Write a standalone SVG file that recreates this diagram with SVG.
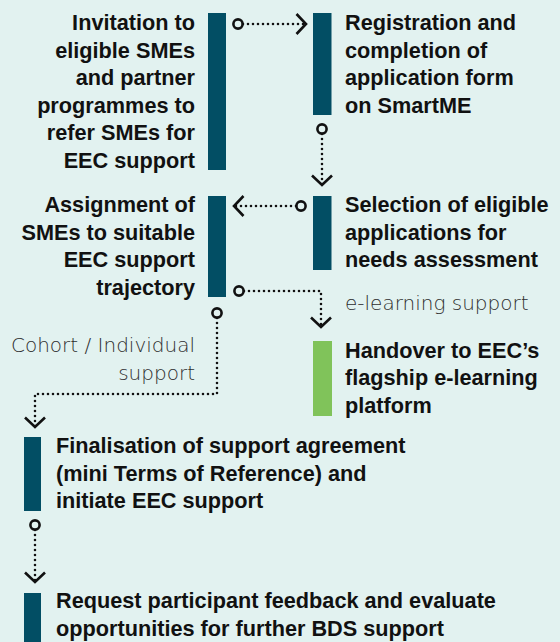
<svg xmlns="http://www.w3.org/2000/svg" width="560" height="642" viewBox="0 0 560 642">
<style>
.bg{fill:#e2f2f0}
.bar{fill:#024e64}
.green{fill:#80c35a}
.t{font-family:"Liberation Sans",Arial,sans-serif;font-weight:700;font-size:21.7px;fill:#111}
.r{text-anchor:end}
.lt{font-family:"DejaVu Sans","Liberation Sans",sans-serif;font-weight:200;font-size:20px;fill:#2e2e2e}
.c{fill:none;stroke:#111;stroke-width:2.6;stroke-dasharray:0 5;stroke-linecap:round;marker-start:url(#ring);marker-end:url(#chev)}
</style>
<defs>
<marker id="ring" markerUnits="userSpaceOnUse" viewBox="-14 -14 28 28" markerWidth="28" markerHeight="28" refX="0" refY="0" orient="auto" overflow="visible">
<circle cx="-5" cy="0" r="4.6" fill="none" stroke="#111" stroke-width="2.6"/>
</marker>
<marker id="chev" markerUnits="userSpaceOnUse" viewBox="-14 -14 28 28" markerWidth="28" markerHeight="28" refX="0" refY="0" orient="auto" overflow="visible">
<path d="M-9.5,-10 L0,0 L-9.5,10" fill="none" stroke="#111" stroke-width="2.6" stroke-linejoin="miter"/>
</marker>
</defs>
<rect class="bg" x="0" y="0" width="560" height="642"/>
<g id="connectors">
<path class="c" d="M243,24 H306"/>
<path class="c" d="M322,134 V185"/>
<path class="c" d="M296,206 H234"/>
<path class="c" d="M244,291 H321 V327"/>
<path class="c" d="M217,318 V394 H35 V427"/>
<path class="c" d="M35,530 V582"/>
</g>
<g id="invitation">
<rect class="bar" x="208" y="13" width="18" height="157"/>
<text class="t r" x="195" y="30">Invitation to</text>
<text class="t r" x="195" y="57.6">eligible SMEs</text>
<text class="t r" x="195" y="85.2">and partner</text>
<text class="t r" x="195" y="112.8">programmes to</text>
<text class="t r" x="195" y="140.4">refer SMEs for</text>
<text class="t r" x="195" y="168">EEC support</text>
</g>
<g id="registration">
<rect class="bar" x="313" y="13" width="18.5" height="102"/>
<text class="t" x="345" y="30">Registration and</text>
<text class="t" x="345" y="57.6">completion of</text>
<text class="t" x="345" y="85.2">application form</text>
<text class="t" x="345" y="112.8">on SmartME</text>
</g>
<g id="selection">
<rect class="bar" x="313" y="196" width="18.5" height="74"/>
<text class="t" x="345" y="212">Selection of eligible</text>
<text class="t" x="345" y="239.6">applications for</text>
<text class="t" x="345" y="267.2">needs assessment</text>
</g>
<g id="assignment">
<rect class="bar" x="208" y="196" width="18" height="101"/>
<text class="t r" x="195" y="212">Assignment of</text>
<text class="t r" x="195" y="239.6">SMEs to suitable</text>
<text class="t r" x="195" y="267.2">EEC support</text>
<text class="t r" x="195" y="294.8">trajectory</text>
</g>
<g id="label-elearning">
<text class="lt" x="345" y="310">e-learning support</text>
</g>
<g id="label-cohort">
<text class="lt r" x="195" y="352">Cohort / Individual</text>
<text class="lt r" x="195" y="380">support</text>
</g>
<g id="handover">
<rect class="green" x="313" y="341" width="19" height="75"/>
<text class="t" x="345" y="357.5">Handover to EEC’s</text>
<text class="t" x="345" y="385">flagship e-learning</text>
<text class="t" x="345" y="412.5">platform</text>
</g>
<g id="finalisation">
<rect class="bar" x="24" y="437" width="17" height="74"/>
<text class="t" x="56" y="453">Finalisation of support agreement</text>
<text class="t" x="56" y="480.6">(mini Terms of Reference) and</text>
<text class="t" x="56" y="508.2">initiate EEC support</text>
</g>
<g id="feedback">
<rect class="bar" x="24" y="593" width="17" height="49"/>
<text class="t" x="56" y="608">Request participant feedback and evaluate</text>
<text class="t" x="56" y="635.6">opportunities for further BDS support</text>
</g>
</svg>
